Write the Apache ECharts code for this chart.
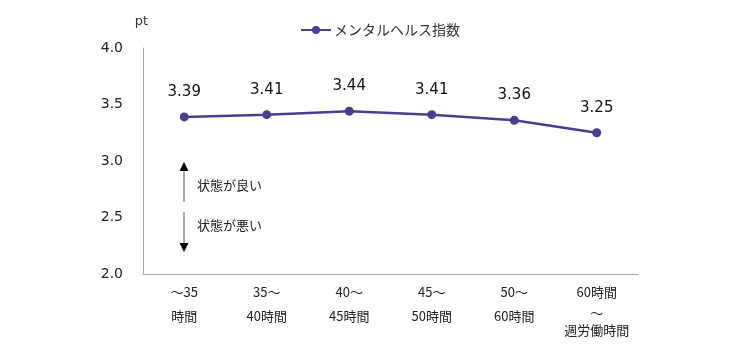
<!DOCTYPE html>
<html><head><meta charset="utf-8">
<script src="https://cdn.jsdelivr.net/npm/echarts@6/dist/echarts.min.js"></script>
<style>html,body{margin:0;padding:0;background:#fff}#c{width:750px;height:350px}</style>
</head><body><div id="c"></div>
<script>
var categories = ['～35\n時間', '35～\n40時間', '40～\n45時間', '45～\n50時間', '50～\n60時間', '60時間\n～\n週労働時間'];
var seriesName = 'メンタルヘルス指数';
var values = [3.39, 3.41, 3.44, 3.41, 3.36, 3.25];
var yTicks = [2.0, 2.5, 3.0, 3.5, 4.0];
var noteGood = '状態が良い';
var noteBad = '状態が悪い';

var FONT = '"DejaVu Sans", "Noto Sans CJK JP", sans-serif';
var JFONT = '"Noto Sans CJK JP", "DejaVu Sans", sans-serif';
var chart = echarts.init(document.getElementById('c'));
var last = categories.length - 1;
chart.setOption({
  animation: false,
  legend: {
    top: 18, left: 295, itemWidth: 30, itemHeight: 10, itemGap: 4,
    textStyle: { fontFamily: JFONT, fontSize: 14, color: '#333', padding: [0, 0, 0, -2] },
    data: [seriesName]
  },
  grid: { left: 143, right: 112, top: 48, bottom: 76 },
  xAxis: {
    type: 'category', data: categories,
    axisLine: { lineStyle: { color: '#a6a6a6' } },
    axisTick: { show: false },
    axisLabel: {
      margin: 6, interval: 0,
      fontFamily: JFONT, fontSize: 13, color: '#222', lineHeight: 24,
      formatter: function (v, i) {
        if (i === last) {
          var p = v.split('\n');
          return '{a|' + p[0] + '}\n{t|' + p[1] + '}\n{b|' + p[2] + '}';
        }
        return v;
      },
      rich: {
        a: { fontFamily: JFONT, fontSize: 13, color: '#222', lineHeight: 24 },
        t: { fontFamily: JFONT, fontSize: 13, color: '#222', lineHeight: 18 },
        b: { fontFamily: JFONT, fontSize: 13, color: '#222', lineHeight: 16 }
      }
    }
  },
  yAxis: {
    type: 'value', min: yTicks[0], max: yTicks[yTicks.length - 1], interval: 0.5,
    name: 'pt', nameLocation: 'end', nameGap: 20,
    nameTextStyle: { fontFamily: FONT, fontSize: 13, color: '#333', align: 'center', padding: [0, 3, 0, 0] },
    axisLine: { show: true, lineStyle: { color: '#a6a6a6' } },
    axisTick: { show: false },
    splitLine: { show: false },
    axisLabel: {
      margin: 20, fontFamily: FONT, fontSize: 14, color: '#222',
      formatter: function (v) { return v.toFixed(1); }
    }
  },
  series: [{
    name: seriesName, type: 'line', data: values,
    symbol: 'circle', symbolSize: 9,
    lineStyle: { color: '#4a3f8c', width: 2.5 },
    itemStyle: { color: '#4a3f8c' },
    label: {
      show: true, position: 'top', distance: 13,
      fontFamily: FONT, fontSize: 15, color: '#111',
      formatter: function (p) { return p.value.toFixed(2); }
    }
  }],
  graphic: [
    { type: 'line', shape: { x1: 184, y1: 170, x2: 184, y2: 202 }, style: { stroke: '#555', lineWidth: 1 } },
    { type: 'polygon', shape: { points: [[184, 162], [179.5, 171], [188.5, 171]] }, style: { fill: '#000' } },
    { type: 'line', shape: { x1: 184, y1: 212, x2: 184, y2: 244 }, style: { stroke: '#555', lineWidth: 1 } },
    { type: 'polygon', shape: { points: [[184, 252], [179.5, 243], [188.5, 243]] }, style: { fill: '#000' } },
    { type: 'text', left: 197, top: 179, style: { text: noteGood, font: '13px "Noto Sans CJK JP", sans-serif', fill: '#222' } },
    { type: 'text', left: 197, top: 219, style: { text: noteBad, font: '13px "Noto Sans CJK JP", sans-serif', fill: '#222' } }
  ]
});
</script></body></html>
